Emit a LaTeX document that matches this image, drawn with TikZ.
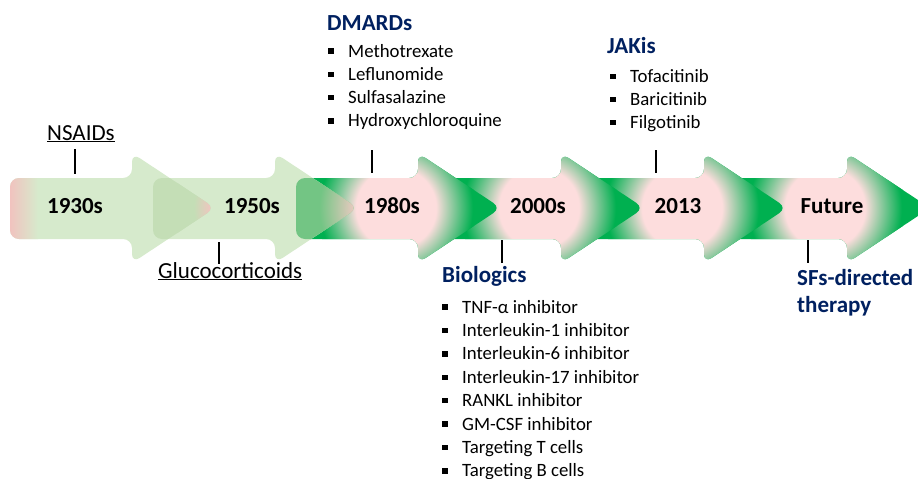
\documentclass[tikz,border=0pt]{standalone}
\usepackage{fontspec}
\setmainfont{Carlito}
\definecolor{grn}{RGB}{0,176,80}
\definecolor{pk}{RGB}{253,221,221}
\definecolor{navy}{RGB}{0,32,96}
\definecolor{paleonwhite}{RGB}{214,234,204}
\definecolor{pkleft}{RGB}{243,192,190}
\definecolor{ovl}{RGB}{196,222,182}
\definecolor{pktipa}{RGB}{242,196,192}
\definecolor{grnmix}{RGB}{115,197,132}
\definecolor{pkmix}{RGB}{240,202,196}
\pgfdeclareradialshading{pkgr}{\pgfpoint{0bp}{0bp}}{color(0bp)=(pk); color(12.5bp)=(pk); color(24bp)=(grn); color(25bp)=(grn); color(50bp)=(grn)}
\pgfdeclareradialshading{tipa}{\pgfpoint{0bp}{0bp}}{color(0bp)=(pktipa); color(13bp)=(pktipa); color(18.5bp)=(ovl); color(25bp)=(ovl); color(50bp)=(ovl)}
\pgfdeclareradialshading{tipb}{\pgfpoint{0bp}{0bp}}{color(0bp)=(pkmix); color(12.5bp)=(pkmix); color(24bp)=(grnmix); color(25bp)=(grnmix); color(50bp)=(grnmix)}
\newcommand\sqb{\makebox[20pt][l]{\rule[3.2pt]{5.5pt}{5.5pt}}}
\tikzset{
  arw/.style={insert path={({#1-205},178) -- ({#1-83},178) -- ({#1-83},153) -- (#1,208) -- ({#1-83},263) -- ({#1-83},239) -- ({#1-205},239) -- cycle}},
  rc/.style={rounded corners=9pt},
  ticker/.style={line width=1.4pt},
  yr/.style={font=\fontsize{23}{27}\selectfont\bfseries, inner sep=0pt, anchor=base},
  hd/.style={font=\fontsize{23}{27}\selectfont\bfseries, text=navy, inner sep=0pt, anchor=base west},
  lab/.style={font=\fontsize{23}{27}\selectfont, inner sep=0pt, anchor=base west},
  itm/.style={font=\fontsize{18.8}{23}\selectfont, inner sep=0pt, anchor=base west}
}
\begin{document}
\begin{tikzpicture}[x=1pt,y=-1pt]
\useasboundingbox (0,0) rectangle (918,479);
\clip (0,0) rectangle (918,479);
% green arrows, last drawn first
\foreach \T in {930,787,644,501}{
  \begin{scope}
    \clip[rc, arw=\T];
    \fill[grn] ({\T-210},145) rectangle ({\T+5},270);
    \shade[shading=pkgr] ({\T-105},208) circle (80pt);
  \end{scope}
}
% pale arrows
\fill[paleonwhite, rc, arw=358];
\fill[paleonwhite, rc, arw=215];
% pink left end of first arrow
\begin{scope}
  \clip[rc, arw=215];
  \shade[left color=pkleft, right color=paleonwhite] (8,170) rectangle (38,245);
\end{scope}
% overlap arrow 1 / arrow 2
\begin{scope}
  \clip[rc, arw=215];
  \clip[rc, arw=358];
  \fill[ovl] (140,145) rectangle (220,270);
  \shade[shading=tipa] (253,208) circle (80pt);
\end{scope}
% overlap arrow 2 / arrow 3
\begin{scope}
  \clip[rc, arw=358];
  \clip[rc, arw=501];
  \fill[grnmix] (280,145) rectangle (365,270);
  \shade[shading=tipb] (396,208) circle (80pt);
\end{scope}
% year labels
\node[yr] (y1) at (75,213) {1930s};
\node[yr] (y2) at (252,213) {1950s};
\node[yr] (y3) at (392,213) {1980s};
\node[yr] (y4) at (538,213) {2000s};
\node[yr] (y5) at (678,213) {2013};
\node[yr] (y6) at (832,213) {Future};
% ticks
\coordinate (t1a) at (75,149);  \coordinate (t1b) at (75,174);
\coordinate (t2a) at (219,242); \coordinate (t2b) at (219,264);
\coordinate (t3a) at (372,150); \coordinate (t3b) at (372,173);
\coordinate (t4a) at (502,240); \coordinate (t4b) at (502,263);
\coordinate (t5a) at (656,150); \coordinate (t5b) at (656,173);
\coordinate (t6a) at (808,240); \coordinate (t6b) at (808,263);
\foreach \k in {1,...,6}{\draw[ticker] (t\k a) -- (t\k b);}
% labels
\node[lab] (nsaid) at (47,140) {\underline{NSAIDs}};
\node[lab] (gluco) at (158,278) {\underline{Glucocorticoids}};
\node[hd] (dmard) at (327,30) {DMARDs};
\foreach \t [count=\i] in {Methotrexate, Leflunomide, Sulfasalazine, Hydroxychloroquine}
  \node[itm] (dm\i) at (328,{57+23.3*(\i-1)}) {\sqb\t};
\node[hd] (jak) at (607,53) {JAKis};
\foreach \t [count=\i] in {Tofacitinib, Baricitinib, Filgotinib}
  \node[itm] (jk\i) at (610,{82.5+23*(\i-1)}) {\sqb\t};
\node[hd] (bio) at (442,282) {Biologics};
\foreach \t [count=\i] in {TNF-α inhibitor, Interleukin-1 inhibitor, Interleukin-6 inhibitor, Interleukin-17 inhibitor, RANKL inhibitor, GM-CSF inhibitor, Targeting T cells, Targeting B cells}
  \node[itm] (bi\i) at (442,{313+23.4*(\i-1)}) {\sqb\t};
\node[hd] (sf1) at (797,285) {SFs-directed};
\node[hd] (sf2) at (797,312) {therapy};
\end{tikzpicture}
\end{document}
